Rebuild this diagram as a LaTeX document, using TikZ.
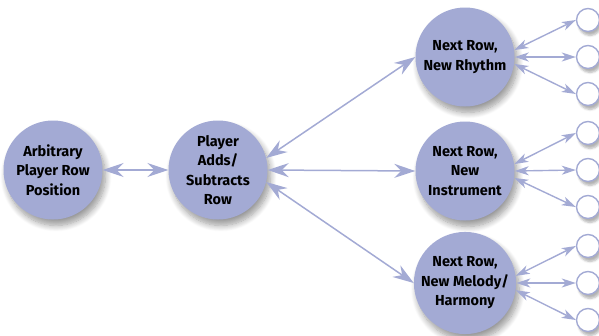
\documentclass[tikz,border=0pt]{standalone}
\usepackage{fontspec}
\setmainfont{Fira Sans}[BoldFont={Fira Sans Bold}]
\usetikzlibrary{arrows.meta,shadows.blur}
\definecolor{lav}{HTML}{A3AAD4}
\tikzset{
  big/.style={circle,fill=lav,minimum size=99pt,inner sep=0pt,align=center,text=black,
    font=\bfseries\fontsize{14.5}{19.5}\selectfont,
    blur shadow={shadow xshift=3pt,shadow yshift=-6pt,shadow blur steps=10,shadow blur radius=6pt,shadow opacity=40}},
  leaf/.style={circle,draw=lav,line width=1.4pt,fill=white,minimum size=23pt,inner sep=0pt,
    blur shadow={shadow xshift=2pt,shadow yshift=-4pt,shadow blur steps=6,shadow opacity=30}},
  link/.style={draw=lav,line width=1.5pt,{Stealth[length=21pt,width=14pt,inset=7pt]}-{Stealth[length=21pt,width=14pt,inset=7pt]}},
  twig/.style={draw=lav,line width=1.4pt,{Stealth[length=14pt,width=9pt,inset=4pt]}-{Stealth[length=14pt,width=9pt,inset=4pt]}}
}
\begin{document}
\begin{tikzpicture}[x=1pt,y=-1pt]
\useasboundingbox (0,0) rectangle (599,335);
\node[big] (arb) at (53,170) {Arbitrary\\Player Row\\Position};
\node[big] (ply) at (218,170) {Player\\Adds/\\Subtracts\\Row};
\node[big] (rhy) at (465,57) {Next Row,\\New Rhythm};
\node[big] (ins) at (465,171) {Next Row,\\New\\Instrument};
\node[big] (mel) at (465,283) {Next Row,\\New Melody/\\Harmony};
\foreach \g/\y in {rhy/20,ins/133,mel/246}{
  \node[leaf] (\g1) at (588,\y) {};
  \node[leaf] (\g2) at (588,\y+37) {};
  \node[leaf] (\g3) at (588,\y+74) {};
  \draw[twig] (\g.8) -- (\g1.west);
  \draw[twig] (\g.0) -- (\g2.west);
  \draw[twig] (\g.-8) -- (\g3.west);
}
\draw[link] (arb.east) -- (ply.west);
\draw[link] (ply.14) -- (rhy.west);
\draw[link] (ply.0) -- (ins.west);
\draw[link] (ply.-14) -- (mel.west);
\end{tikzpicture}
\end{document}
